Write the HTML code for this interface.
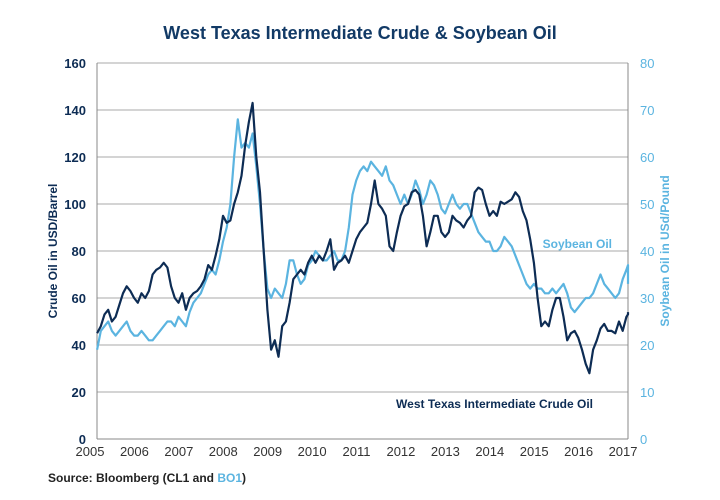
<!DOCTYPE html>
<html><head><meta charset="utf-8"><style>
body{margin:0;background:#fff;font-family:"Liberation Sans",sans-serif}
svg{display:block}
</style></head><body>
<svg id="chart" width="720" height="500" xmlns="http://www.w3.org/2000/svg">
<text x="360" y="39" text-anchor="middle" font-size="18" font-weight="bold" fill="#123a66">West Texas Intermediate Crude &amp; Soybean Oil</text>
<g id="grid"></g>
<g id="yl"></g>
<g id="yr"></g>
<g id="xa"></g>
<g id="series"></g>
<text transform="translate(57,251) rotate(-90)" text-anchor="middle" font-size="12" font-weight="bold" fill="#0d2c54">Crude Oil in USD/Barrel</text>
<text transform="translate(669,251) rotate(-90)" text-anchor="middle" font-size="12" font-weight="bold" fill="#5bb4e0">Soybean Oil in USd/Pound</text>
<text x="612" y="248" text-anchor="end" font-size="12" font-weight="bold" fill="#5bb4e0">Soybean Oil</text>
<text x="593" y="408" text-anchor="end" font-size="12" font-weight="bold" fill="#0d2c54">West Texas Intermediate Crude Oil</text>
<text x="48" y="482" font-size="12" font-weight="bold" fill="#222">Source: Bloomberg (CL1 and <tspan fill="#5bb4e0">BO1</tspan>)</text>
</svg>
<script>
const years=["2005","2006","2007","2008","2009","2010","2011","2012","2013","2014","2015","2016","2017"];
const leftTicks=[0,20,40,60,80,100,120,140,160];
const rightTicks=[0,10,20,30,40,50,60,70,80];
const wti=[45,48,53,55,50,52,57,62,65,63,60,58,
62,60,63,70,72,73,75,73,65,60,58,62,
55,60,62,63,65,68,74,72,78,85,95,92,
93,100,105,112,125,135,143,120,105,80,55,38,
42,35,48,50,58,68,70,72,70,75,78,75,
78,76,80,85,72,75,76,78,75,80,85,88,
90,92,100,110,100,98,95,82,80,88,95,99,
100,105,106,104,95,82,88,95,95,88,86,88,
95,93,92,90,93,95,105,107,106,100,95,97,
95,101,100,101,102,105,103,97,93,85,75,60,
48,50,48,55,60,60,52,42,45,46,43,38,
32,28,38,42,47,49,46,46,45,50,46,52,
53,54];
const soy=[19,23,24,25,23,22,23,24,25,23,22,22,
23,22,21,21,22,23,24,25,25,24,26,25,
24,27,29,30,31,33,35,36,35,38,42,45,
50,60,68,62,63,62,65,58,50,40,32,30,
32,31,30,33,38,38,35,33,34,37,38,40,
39,38,38,39,40,38,38,40,45,52,55,57,
58,57,59,58,57,56,58,55,54,52,50,52,
50,52,55,53,50,52,55,54,52,49,48,50,
52,50,49,50,50,48,46,44,43,42,42,40,
40,41,43,42,41,39,37,35,33,32,33,32,
32,31,31,32,31,32,33,31,28,27,28,29,
30,30,31,33,35,33,32,31,30,31,34,36,
37,33];
const NS="http://www.w3.org/2000/svg";
const L=97,R=628,T=63,B=439;
const xs=t=>90+(t-2005)*44.42;
const yL=v=>B-(v/160)*(B-T);
const yR=v=>B-(v/80)*(B-T);
function mk(tag,attrs,parent,txt){const e=document.createElementNS(NS,tag);for(const k in attrs)e.setAttribute(k,attrs[k]);if(txt!==undefined)e.textContent=txt;parent.appendChild(e);return e;}
const grid=document.getElementById('grid'),yl=document.getElementById('yl'),yr=document.getElementById('yr'),xa=document.getElementById('xa'),ser=document.getElementById('series');
leftTicks.forEach((v,i)=>{
  const g=mk('line',{x1:L,x2:R,y1:yL(v),y2:yL(v),stroke:i===0?'#888':'#aaa','stroke-width':1},grid);
  
  
  const t=mk('text',{x:86,y:yL(v)+5,'text-anchor':'end','font-size':13,'font-weight':'bold',fill:'#0d2c54'},yl,v);
  
  
});
rightTicks.forEach(v=>{
  const t=mk('text',{x:640,y:yR(v)+5,'font-size':13,fill:'#5bb4e0'},yr,v);
  
  
});
const a1=mk('line',{x1:L,x2:L,y1:T,y2:B,stroke:'#888'},grid);


const a2=mk('line',{x1:R,x2:R,y1:T,y2:B,stroke:'#888'},grid);


years.forEach((y,i)=>{
  const t=mk('text',{x:xs(2005+i),y:456,'text-anchor':'middle','font-size':13,fill:'#333'},xa,y);
  
  
});
function line(arr,ys,color,name){
  const pts=arr.map((v,i)=>{let t=2005.16+i/12;let x=Math.min(R,xs(t));return x.toFixed(1)+','+ys(v).toFixed(1);}).join(' ');
  const p=mk('polyline',{points:pts,fill:'none',stroke:color,'stroke-width':2.2,'stroke-linejoin':'round'},ser);
  
  
}
line(soy,yR,'#5bb4e0','soybean-oil-line');
line(wti,yL,'#0d2c54','wti-crude-line');
</script>
</body></html>
